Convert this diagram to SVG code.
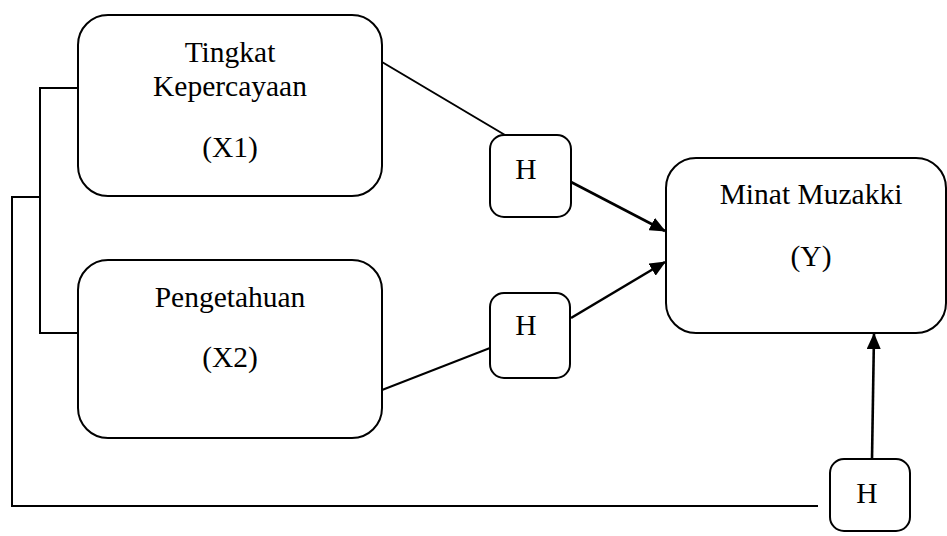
<svg xmlns="http://www.w3.org/2000/svg" width="947" height="536" viewBox="0 0 947 536">
<defs>
<style>
.box{fill:#fff;stroke:#000;stroke-width:2}
.ln{fill:none;stroke:#000;stroke-width:2}
.ar{fill:none;stroke:#000;stroke-width:2.6}
text{font-family:"Liberation Serif","Times New Roman",serif;font-size:29.5px;fill:#000;text-anchor:middle}
</style>
<marker id="ah" markerWidth="16" markerHeight="14" refX="15" refY="7" orient="auto" markerUnits="userSpaceOnUse">
<path d="M0,0 L16,7 L0,14 Z" fill="#000"/>
</marker>
</defs>
<rect width="947" height="536" fill="#fff"/>
<g id="connectors">
<polyline class="ln" points="78,88 40,88 40,333 78,333"/>
<polyline class="ln" points="40,197 12,197 12,506 818,506"/>
<line class="ln" x1="382" y1="62" x2="505" y2="135"/>
<line class="ln" x1="382" y1="390" x2="490" y2="348"/>
<line class="ar" x1="571" y1="182" x2="665" y2="231" marker-end="url(#ah)"/>
<line class="ar" x1="571" y1="318" x2="665" y2="262" marker-end="url(#ah)"/>
<line class="ar" x1="872" y1="459" x2="874" y2="334" marker-end="url(#ah)"/>
</g>
<g id="x1">
<rect class="box" x="78" y="15" width="304" height="181" rx="30" ry="30"/>
<text x="230" y="62">Tingkat</text>
<text x="230" y="96">Kepercayaan</text>
<text x="230" y="157">(X1)</text>
</g>
<g id="x2">
<rect class="box" x="78" y="260" width="304" height="178" rx="30" ry="30"/>
<text x="230" y="307">Pengetahuan</text>
<text x="230" y="367">(X2)</text>
</g>
<g id="y">
<rect class="box" x="666" y="158" width="280" height="175" rx="30" ry="30"/>
<text x="811" y="204">Minat Muzakki</text>
<text x="811" y="266">(Y)</text>
</g>
<g id="h1">
<rect class="box" x="490" y="135" width="81" height="82" rx="14" ry="14"/>
<text x="526" y="179">H</text>
</g>
<g id="h2">
<rect class="box" x="490" y="293" width="80" height="85" rx="14" ry="14"/>
<text x="526" y="335">H</text>
</g>
<g id="h3">
<rect class="box" x="830" y="459" width="80" height="72" rx="14" ry="14"/>
<text x="867" y="503">H</text>
</g>
</svg>
